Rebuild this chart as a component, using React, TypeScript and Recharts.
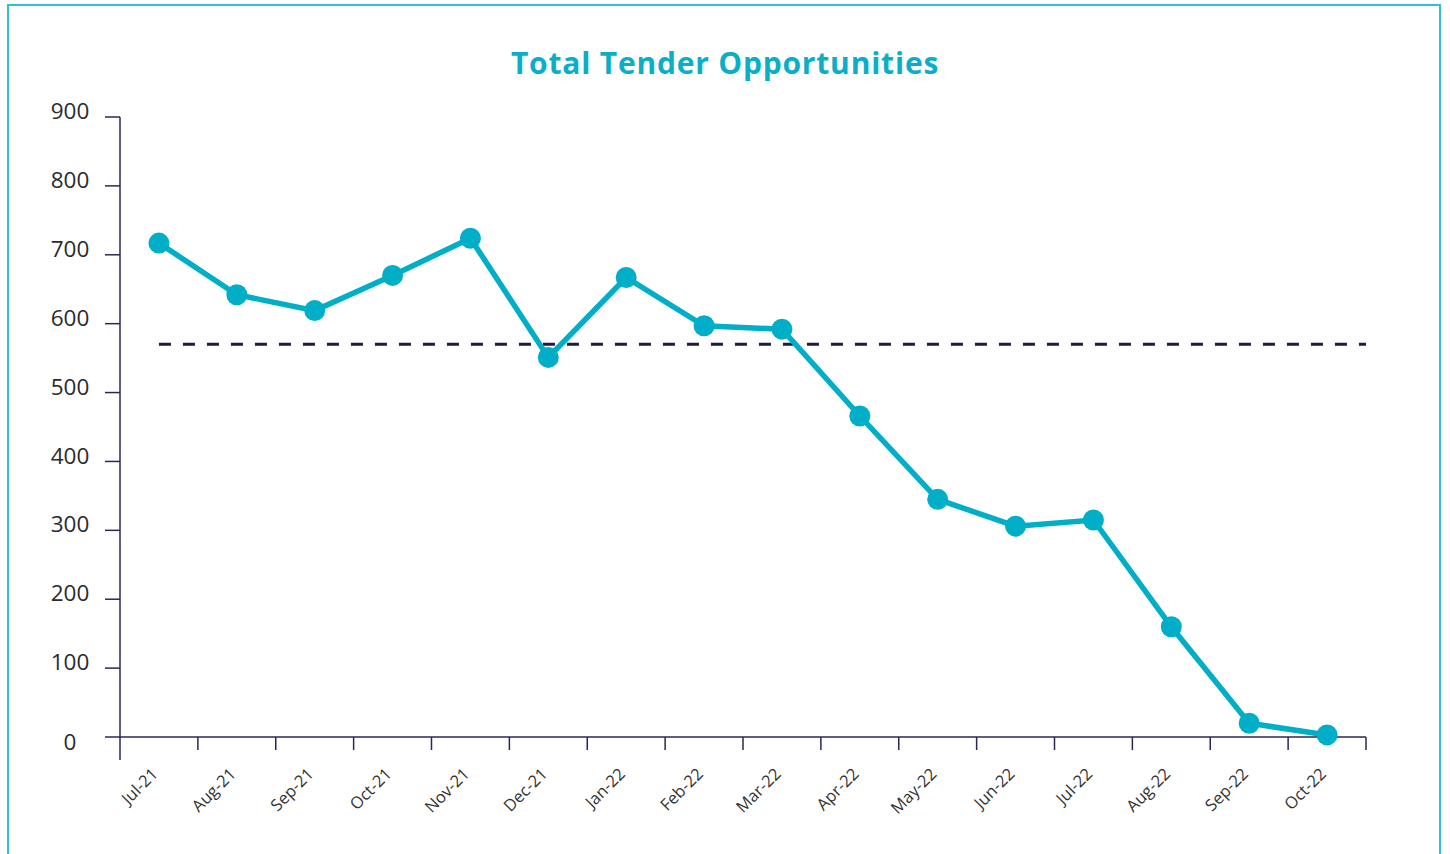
import React from "react";
import { LineChart, Line, XAxis, YAxis, ReferenceLine } from "recharts";

const months = ["Jul-21","Aug-21","Sep-21","Oct-21","Nov-21","Dec-21","Jan-22","Feb-22","Mar-22","Apr-22","May-22","Jun-22","Jul-22","Aug-22","Sep-22","Oct-22"];
const tenders = [717, 642, 619, 670, 724, 551, 667, 597, 592, 466, 345, 306, 315, 160, 20, 3];
const benchmark = 570;
const yTicks = [0, 100, 200, 300, 400, 500, 600, 700, 800, 900];
const boundaryTicks = [0,1,2,3,4,5,6,7,8,9,10,11,12,13,14,15,16];

const data = months.map((m, i) => ({ pos: i + 0.5, month: m, value: tenders[i] }));
const labelTicks = data.map(d => d.pos);

const TEAL = "#00afc7";
const NAVY = "#2a2757";
const FONT = "'Open Sans', Lato, sans-serif";

const BoundaryTick = (props: any) => {
  const { x, y, payload } = props;
  const len = payload.value === 0 ? 23 : 13;
  return <line x1={x} x2={x} y1={y} y2={y + len} stroke={NAVY} strokeWidth={1.5} />;
};

const MonthTick = (props: any) => {
  const { x, y, payload } = props;
  const idx = Math.round(payload.value - 0.5);
  const tx = x;
  const ty = y + 18;
  return (
    <text x={tx} y={ty} textAnchor="end" fontSize={16.5} fill="#333" fontFamily={FONT}
      transform={`rotate(-45, ${tx}, ${ty})`}>{months[idx]}</text>
  );
};

const YTick = (props: any) => {
  const { y, payload } = props;
  const off = payload.value === 0 ? 5 : -6;
  return (
    <text x={70} y={y + off} dy="0.36em" textAnchor="middle" fontSize={22.5} fill="#2b2b2b" fontFamily={FONT}>{payload.value}</text>
  );
};

export default function App() {
  return (
    <div style={{ position: "absolute", left: 0, top: 0, width: 1450, height: 854, background: "#fff", overflow: "hidden" }}>
      <div style={{ position: "absolute", left: 7, top: 4, width: 1434, height: 900, border: `2px solid #38bfd3`, boxSizing: "border-box" }} />
      <svg style={{ position: "absolute", left: 0, top: 0 }} width={1450} height={100}>
        <text x={725} y={74} textAnchor="middle" fontSize={30} fontWeight={700} fill="#0aafc7" fontFamily={FONT} letterSpacing={0.8}>Total Tender Opportunities</text>
      </svg>
      <div style={{ position: "absolute", left: 0, top: 0 }}>
        <LineChart width={1450} height={854} data={data} margin={{ top: 117, right: 84, left: 0, bottom: 37 }}>
          <YAxis type="number" domain={[0, 900]} ticks={yTicks} interval={0} width={120}
            tickSize={15} tickLine={{ stroke: NAVY, strokeWidth: 1.5 }} axisLine={{ stroke: NAVY, strokeWidth: 1.5 }}
            tick={<YTick />} />
          <XAxis xAxisId={0} dataKey="pos" type="number" domain={[0, 16]} ticks={boundaryTicks} interval={0}
            height={20} tickSize={0} tickMargin={0} tickLine={false}
            axisLine={{ stroke: NAVY, strokeWidth: 1.5 }} tick={<BoundaryTick />} />
          <XAxis xAxisId="lbl" dataKey="pos" type="number" domain={[0, 16]} ticks={labelTicks} interval={0}
            height={60} tickSize={0} tickMargin={0} tickLine={false} axisLine={false} tick={<MonthTick />} />
          <ReferenceLine xAxisId={0} segment={[{ x: 0.5, y: benchmark }, { x: 16, y: benchmark }]}
            stroke="#1d1a47" strokeWidth={3} strokeDasharray="12 12" />
          <Line xAxisId={0} type="linear" dataKey="value" stroke={TEAL} strokeWidth={5.5}
            dot={{ r: 10.5, fill: TEAL, stroke: "none" }} activeDot={false} isAnimationActive={false} />
        </LineChart>
      </div>
    </div>
  );
}
